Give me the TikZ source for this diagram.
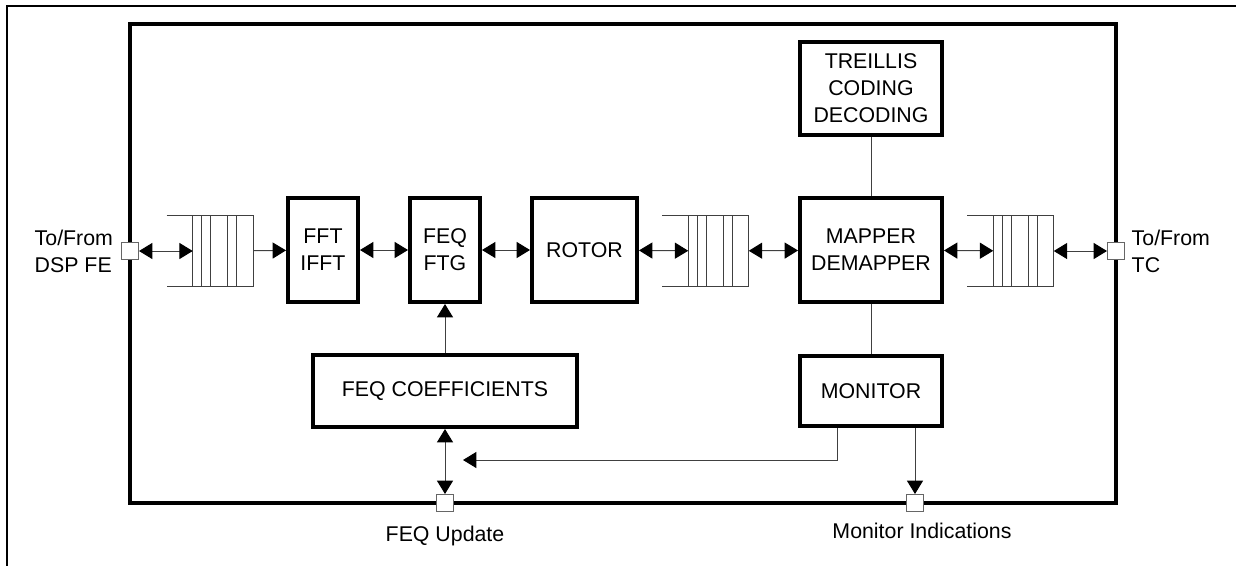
\documentclass[tikz,border=0pt]{standalone}
\usepackage{fontspec}
\setmainfont{Liberation Sans}
\usetikzlibrary{arrows.meta}

\begin{document}
\begin{tikzpicture}[x=0.75pt, y=-0.75pt,
        font=\fontsize{16}{20.25}\selectfont,
        blk/.style={draw, line width=3pt, minimum height=78pt, align=center, inner sep=0pt},
        fifo/.style={minimum width=45pt, minimum height=52.5pt, inner sep=0pt},
        port/.style={draw=black!60, fill=white, line width=0.75pt, minimum size=12.75pt, inner sep=0pt},
        lnk/.style={draw=black!75, line width=0.75pt},
        to/.style={lnk, -{Triangle[length=10pt,width=12pt,black]}},
        both/.style={lnk, {Triangle[length=10pt,width=12pt,black]}-{Triangle[length=10pt,width=12pt,black]}}]
        \useasboundingbox (0,0) rectangle (1236,565);

        % frames
        \draw[line width=1.5pt] (7,570) -- (7,6) -- (1240,6);
        \draw[line width=3pt] (130,24) rectangle (1116,503);

        % blocks
        \node[blk, minimum width=52.5pt] (fft) at (323,250) {FFT\\IFFT};
        \node[blk, minimum width=52.5pt] (feq) at (445,250) {FEQ\\FTG};
        \node[blk, minimum width=78.75pt] (rot) at (584.5,250) {ROTOR};
        \node[blk, minimum width=106.5pt] (map) at (871,250) {MAPPER\\DEMAPPER};
        \node[blk, minimum width=106.5pt, minimum height=69.75pt] (tcm) at (871,88.5) {TREILLIS\\CODING\\DECODING};
        \node[blk, minimum width=106.5pt, minimum height=52.5pt] (mon) at (871,391) {MONITOR};
        \node[blk, minimum width=198pt, minimum height=54pt] (coef) at (445,391) {FEQ COEFFICIENTS};

        % queues
        \node[fifo] (q1) at (223,251) {};
        \node[fifo] (q2) at (718.5,251) {};
        \node[fifo] (q3) at (1023.5,251) {};
        \foreach \q in {q1,q2,q3} {
            \draw[lnk] ([xshift=-19.5pt]\q.north west) -- (\q.north east) -- (\q.south east) -- ([xshift=-19.5pt]\q.south west);
            \foreach \d in {0,6.75,13.5,26.25,33}
                \draw[lnk] ([xshift=\d pt]\q.north west) -- ([xshift=\d pt]\q.south west);
        }

        % ports
        \node[port] (pl) at (130,251) {};
        \node[port] (pr) at (1116,251) {};
        \node[port] (pfu) at (445,503) {};
        \node[port] (pmi) at (915,503) {};
        \coordinate (fbk) at (463,460);

        % links
        \draw[both] (pl) -- (q1);
        \draw[to] (q1) -- (fft);
        \draw[both] (fft) -- (feq);
        \draw[both] (feq) -- (rot);
        \draw[both] (rot) -- (q2);
        \draw[both] (q2) -- (map);
        \draw[both] (map) -- (q3);
        \draw[both] (q3) -- (pr);
        \draw[to] (coef) -- (feq);
        \draw[both] (coef) -- (pfu);
        \draw[lnk] (tcm) -- (map);
        \draw[lnk] (map) -- (mon);
        \draw[to] ([xshift=-25.5pt]mon.south) |- (fbk);
        \draw[to] (mon.south -| pmi) -- (pmi);

        % labels
        \node[anchor=west, align=left] (lbl) at (30,251) {To/From\\DSP FE};
        \node[anchor=west, align=left] (lbr) at (1127,251) {To/From\\TC};
        \node (lfu) at (445,536) {FEQ Update};
        \node (lmi) at (922,531) {Monitor Indications};
    \end{tikzpicture}
\end{document}
